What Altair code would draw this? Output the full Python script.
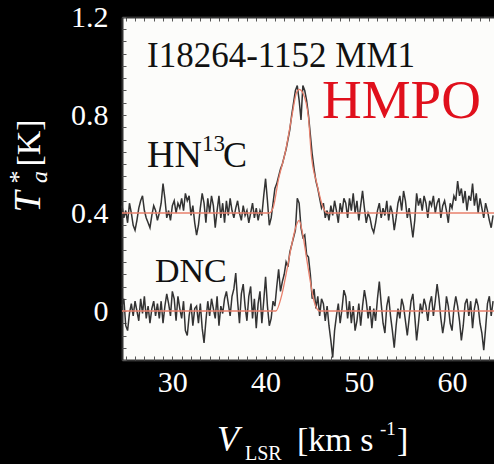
import altair as alt
import pandas as pd

# ---------------- data ----------------
V_START = 24.6   # km/s, first channel
CHAN = 0.2       # km/s, channel width

# HN13C spectrum (plotted with +0.4 K offset), 200 channels
hn13c = [
    0.43, 0.38, 0.41, 0.36, 0.44, 0.40, 0.35, 0.33, 0.37, 0.42, 0.45, 0.47, 0.41, 0.38, 0.36, 0.34, 0.39, 0.43, 0.41, 0.37,
    0.40, 0.44, 0.52, 0.46, 0.38, 0.41, 0.37, 0.43, 0.45, 0.40, 0.44, 0.42, 0.46, 0.41, 0.48, 0.45, 0.47, 0.39, 0.43, 0.36,
    0.31, 0.35, 0.42, 0.48, 0.44, 0.36, 0.46, 0.40, 0.47, 0.43, 0.34, 0.41, 0.47, 0.38, 0.44, 0.36, 0.45, 0.39, 0.46, 0.41,
    0.38, 0.42, 0.45, 0.40, 0.37, 0.43, 0.39, 0.41, 0.36, 0.40, 0.44, 0.38, 0.42, 0.37, 0.41, 0.39, 0.47, 0.54, 0.45, 0.35,
    0.38, 0.44, 0.50, 0.52, 0.55, 0.58, 0.60, 0.63, 0.66, 0.70, 0.74, 0.80, 0.85, 0.90, 0.92, 0.86, 0.78, 0.92, 0.90, 0.86,
    0.80, 0.72, 0.64, 0.58, 0.53, 0.50, 0.46, 0.42, 0.44, 0.38, 0.41, 0.37, 0.43, 0.39, 0.45, 0.41, 0.36, 0.44, 0.40, 0.46,
    0.44, 0.38, 0.46, 0.41, 0.48, 0.40, 0.45, 0.37, 0.43, 0.49, 0.42, 0.36, 0.40, 0.38, 0.34, 0.32, 0.36, 0.41, 0.44, 0.38,
    0.42, 0.39, 0.45, 0.37, 0.43, 0.40, 0.33, 0.38, 0.44, 0.47, 0.41, 0.49, 0.45, 0.38, 0.42, 0.36, 0.30, 0.37, 0.48, 0.43,
    0.46, 0.41, 0.47, 0.44, 0.38, 0.45, 0.43, 0.47, 0.40, 0.44, 0.46, 0.38, 0.43, 0.45, 0.41, 0.36, 0.44, 0.42, 0.47, 0.45,
    0.53, 0.47, 0.50, 0.44, 0.49, 0.41, 0.47, 0.45, 0.52, 0.43, 0.48, 0.40, 0.46, 0.42, 0.38, 0.44, 0.41, 0.37, 0.34, 0.39,
]

# DNC spectrum, 200 channels
dnc = [
    0.02, 0.05, -0.06, -0.08, -0.01, 0.03, -0.02, 0.04, 0.00, -0.04, 0.05, -0.01, 0.06, -0.03, 0.02, -0.05, 0.01, 0.04, -0.02, 0.03,
    -0.03, 0.04, -0.05, 0.02, 0.07, 0.03, -0.02, 0.08, 0.05, -0.04, 0.06, 0.01, -0.03, 0.04, -0.08, -0.10, -0.02, 0.03, -0.06, 0.01,
    0.02, -0.05, 0.03, -0.07, -0.13, -0.04, 0.04, -0.02, 0.05, 0.01, -0.03, 0.06, -0.06, 0.02, -0.01, 0.05, 0.08, 0.03, -0.02, 0.06,
    0.09, 0.155, 0.04, -0.05, 0.07, 0.11, 0.02, -0.04, 0.06, 0.10, -0.03, 0.05, -0.07, 0.03, 0.08, -0.05, 0.04, 0.14, 0.02, -0.06,
    -0.03, 0.04, 0.02, 0.10, 0.17, 0.08, 0.12, 0.15, 0.20, 0.18, 0.24, 0.27, 0.30, 0.33, 0.46, 0.44, 0.34, 0.30, 0.31, 0.23,
    0.22, 0.15, 0.05, 0.09, 0.01, 0.06, -0.02, 0.05, 0.03, -0.04, 0.02, -0.06, -0.12, -0.19, -0.08, -0.02, 0.03, -0.05, 0.01, 0.085,
    0.06, -0.03, 0.04, -0.05, 0.02, -0.08, -0.04, 0.03, -0.06, 0.02, 0.085, 0.04, -0.03, 0.02, -0.07, 0.01, -0.04, 0.05, 0.12, 0.03,
    -0.05, -0.09, 0.02, 0.06, -0.02, -0.08, -0.15, -0.06, 0.01, -0.03, 0.05, 0.02, -0.04, -0.10, -0.03, 0.04, 0.07, -0.02, -0.12, -0.05,
    0.03, -0.01, 0.05, 0.02, -0.04, 0.03, 0.06, -0.02, 0.04, 0.11, 0.05, -0.03, -0.09, -0.04, 0.06, 0.02, -0.05, -0.08, 0.01, 0.06,
    0.02, -0.04, -0.12, -0.06, 0.03, 0.05, -0.02, 0.04, -0.07, 0.01, 0.05, 0.02, -0.05, -0.09, -0.16, -0.07, 0.03, 0.06, -0.02, 0.04,
]

# Gaussian fits, read at a few points along the red curves
hn13c_fit_v = [24.6, 40.4, 40.8, 41.4, 42.1, 42.8, 43.3, 43.6, 44.0, 44.6, 44.9, 45.5, 46.2, 46.6, 64.6]
hn13c_fit_t = [0.40, 0.40, 0.42, 0.54, 0.645, 0.79, 0.89, 0.905, 0.89, 0.79, 0.64, 0.52, 0.42, 0.40, 0.40]
dnc_fit_v = [24.6, 41.1, 41.7, 42.3, 42.8, 43.3, 43.6, 44.0, 44.4, 44.8, 45.2, 45.8, 64.6]
dnc_fit_t = [0.0, 0.0, 0.06, 0.17, 0.27, 0.35, 0.37, 0.31, 0.215, 0.12, 0.04, 0.0, 0.0]

x_ticks = [30, 40, 50, 60]
y_ticks = [0, 0.4, 0.8, 1.2]
x_minor = list(range(25, 65))
y_minor = [round(-0.2 + 0.05 * i, 2) for i in range(29)]

# ---------------- build ----------------
vel = [round(V_START + CHAN * i, 2) for i in range(len(hn13c))]
df_hn = pd.DataFrame({"v": vel, "t": hn13c})
df_dn = pd.DataFrame({"v": vel, "t": dnc})
df_hn_fit = pd.DataFrame({"v": hn13c_fit_v, "t": hn13c_fit_t})
df_dn_fit = pd.DataFrame({"v": dnc_fit_v, "t": dnc_fit_t})

W, H = 372, 343
SERIF = "Liberation Serif"
xscale = alt.Scale(domain=[24.6, 64.5], nice=False, zero=False)
yscale = alt.Scale(domain=[-0.2, 1.2], nice=False, zero=False)
FRAME = "#333333"
TICK = "#555555"
LINE = "#333333"
FIT = "#e8806c"

main_x = alt.Axis(orient="bottom", values=x_ticks, labelFont=SERIF, labelFontSize=30,
                  labelFontWeight="normal",
                  labelColor="white", labelPadding=7, ticks=False, grid=False,
                  domainColor=FRAME, domainWidth=2, title=None)
main_y = alt.Axis(orient="left", values=y_ticks, labelFont=SERIF, labelFontSize=30,
                  labelFontWeight="normal",
                  labelColor="white", labelPadding=14, ticks=False, grid=False,
                  domainColor=FRAME, domainWidth=2, title=None,
                  labelExpr="datum.value == 0 ? '0' : format(datum.value, '.1f')")

bot_ticks = alt.Axis(orient="top", offset=-H, values=x_minor, labels=False, domain=False,
                     tickSize=4, tickColor=TICK, grid=False, title=None)
left_ticks = alt.Axis(orient="right", offset=-W, values=y_minor, labels=False, domain=False,
                      tickSize=4, tickColor=TICK, grid=False, title=None)
top_ticks = alt.Axis(orient="bottom", offset=-H, values=x_minor, labels=False, domain=True,
                     domainColor=FRAME, domainWidth=2, tickSize=4, tickColor=TICK,
                     grid=False, title=None)

hn_line = alt.Chart(df_hn).mark_line(color=LINE, strokeWidth=1.5).encode(
    x=alt.X("v:Q", scale=xscale, axis=main_x),
    y=alt.Y("t:Q", scale=yscale, axis=main_y),
)
dn_line = alt.Chart(df_dn).mark_line(color=LINE, strokeWidth=1.5).encode(
    x=alt.X("v:Q", scale=xscale, axis=bot_ticks),
    y=alt.Y("t:Q", scale=yscale, axis=left_ticks),
)
hn_fit = alt.Chart(df_hn_fit).mark_line(color=FIT, strokeWidth=1.3, interpolate="monotone").encode(
    x=alt.X("v:Q", scale=xscale, axis=top_ticks),
    y=alt.Y("t:Q", scale=yscale, axis=None),
)
dn_fit = alt.Chart(df_dn_fit).mark_line(color=FIT, strokeWidth=1.3, interpolate="monotone").encode(
    x=alt.X("v:Q", scale=xscale, axis=None),
    y=alt.Y("t:Q", scale=yscale, axis=None),
)

one = pd.DataFrame({"k": [0]})


def label(text, x, y, size, color="#111111", style="normal", angle=0, align="left", baseline="alphabetic"):
    return alt.Chart(one).mark_text(
        text=text, font=SERIF, fontSize=size, color=color, fontStyle=style,
        angle=angle, align=align, baseline=baseline, clip=False,
    ).encode(x=alt.value(x), y=alt.value(y))


texts = [
    label("I18264-1152 MM1", 25, 50, 35),
    label("HMPO", 200, 101, 55, color="#e0101c"),
    label("HN", 25, 150, 38),
    label("13", 80, 134, 23),
    label("C", 101, 150, 36),
    label("DNC", 33, 265, 34),
    # y title
    label("T", -93, 185, 38, color="white", style="italic", angle=270, align="center", baseline="middle"),
    label("a", -82, 160, 24, color="white", style="italic", angle=270, align="center", baseline="middle"),
    label("*", -103, 160, 26, color="white", angle=270, align="center", baseline="middle"),
    label("[K]", -92, 126, 34, color="white", angle=270, align="center", baseline="middle"),
    # x title
    label("V", 95, 434, 36, color="white", style="italic"),
    label("LSR", 123, 443, 20, color="white"),
    label("[km s", 175, 434, 34, color="white"),
    label("-1", 258, 418, 19, color="white"),
    label("]", 275, 434, 34, color="white"),
]

chart = alt.layer(hn_line, dn_line, hn_fit, dn_fit, *texts).resolve_axis(
    x="independent", y="independent"
).properties(
    width=W, height=H,
    padding={"left": 122, "top": 17, "right": 0, "bottom": 104},
    autosize=alt.AutoSizeParams(type="none"),
    background="black",
).configure(
    font=SERIF
).configure_axis(
    labelFont=SERIF, titleFont=SERIF
).configure_text(
    font=SERIF
).configure_view(fill="#fcfcfa", stroke="transparent")

chart.save("out.html", embed_options={"renderer": "svg", "actions": False})
